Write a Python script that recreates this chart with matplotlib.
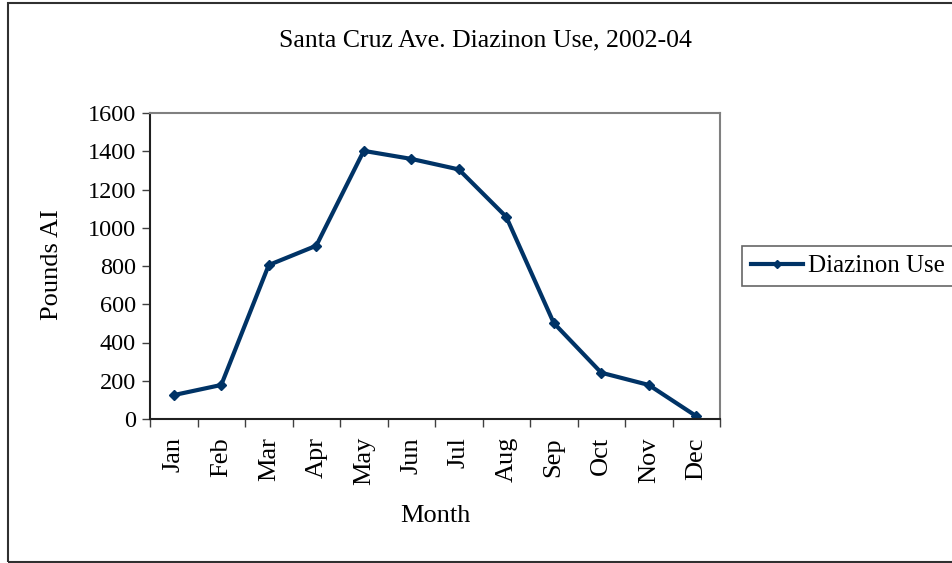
import matplotlib.pyplot as plt
from matplotlib.patches import Rectangle

months = ['Jan', 'Feb', 'Mar', 'Apr', 'May', 'Jun',
          'Jul', 'Aug', 'Sep', 'Oct', 'Nov', 'Dec']
diazinon_use = [125, 178, 805, 906, 1402, 1360, 1305, 1057, 502, 242, 178, 15]
y_ticks = [0, 200, 400, 600, 800, 1000, 1200, 1400, 1600]

plt.rcParams['font.family'] = ['Liberation Serif', 'DejaVu Serif']

W, H = 952, 563
fig = plt.figure(figsize=(W / 100, H / 100), dpi=100)
ax = fig.add_axes([150 / W, 1 - 419 / H, 570 / W, 306 / H])

x = list(range(len(months)))
line, = ax.plot(x, diazinon_use, color='#003366', lw=3, marker='D',
                ms=5.5, label='Diazinon Use')

ax.set_xlim(-0.5, len(months) - 0.5)
ax.set_ylim(0, 1600)
ax.set_yticks(y_ticks)
ax.set_yticklabels([str(v) for v in y_ticks], fontsize=17.5)
ax.set_xticks(x)
ax.set_xticklabels(months, rotation=90, fontsize=19)
ax.tick_params(axis='x', length=0, pad=13)
# excel style ticks between categories
ax.set_xticks([i - 0.5 for i in range(len(months) + 1)], minor=True)
ax.tick_params(axis='x', which='minor', length=6, width=1, color='#404040')
ax.tick_params(axis='y', length=6, width=1, color='#404040', pad=4)

for side in ['top', 'right']:
    ax.spines[side].set_color('#808080')
    ax.spines[side].set_linewidth(1.5)
for side in ['left', 'bottom']:
    ax.spines[side].set_color('#202020')
    ax.spines[side].set_linewidth(1.5)

fig.text(52 / W, 1 - 265 / H, 'Pounds AI', rotation=90,
         ha='center', va='center', fontsize=19)
fig.text(435 / W, 1 - 516 / H, 'Month', ha='center', va='center', fontsize=19)
fig.text(485 / W, 1 - 40 / H, 'Santa Cruz Ave. Diazinon Use, 2002-04',
         ha='center', va='center', fontsize=18.5)

leg = fig.legend(handles=[line], loc='center left',
                 bbox_to_anchor=(742 / W, 1 - 266 / H), fontsize=18,
                 frameon=True, fancybox=False, handlelength=2.1,
                 handletextpad=0.2, borderpad=0.35, borderaxespad=0)
leg.get_frame().set_edgecolor('#404040')
leg.get_frame().set_linewidth(1.2)
leg.legend_handles[0].set_markersize(4)

# outer chart frame (runs off the right edge)
fig.patches.append(Rectangle((8 / W, 1 / H), 1.0, 559 / H,
                             transform=fig.transFigure, fill=False,
                             edgecolor='#303030', lw=1.5))

fig.savefig('out.png', dpi=100)
